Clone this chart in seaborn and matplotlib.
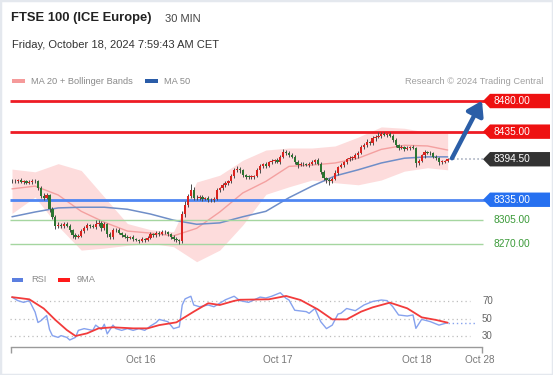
import numpy as np
import pandas as pd
import seaborn as sns
import matplotlib.pyplot as plt
from matplotlib.patches import Polygon, Rectangle

# ---- data (30-min bars, index 0 = first candle on the chart) ----
first_open = 8362
closes = [
    8363, 8362, 8364, 8361, 8362, 8360, 8361, 8363, 8362, 8352, 8341, 8338,
    8342, 8322, 8310, 8296, 8298, 8296, 8300, 8297, 8290, 8283, 8281, 8282,
    8289, 8293, 8298, 8296, 8295, 8299, 8301, 8293, 8299, 8285, 8280, 8290,
    8291, 8286, 8283, 8281, 8279, 8280, 8277, 8276, 8275, 8277, 8276, 8279,
    8284, 8283, 8286, 8285, 8288, 8287, 8284, 8280, 8278, 8276, 8275, 8314,
    8327, 8340, 8349, 8338, 8337, 8339, 8336, 8337, 8335, 8334, 8336, 8349,
    8352, 8356, 8360, 8362, 8370, 8378, 8380, 8378, 8371, 8369, 8368, 8369,
    8370, 8378, 8384, 8387, 8385, 8390, 8392, 8393, 8391, 8398, 8405, 8404,
    8401, 8398, 8390, 8386, 8388, 8387, 8386, 8388, 8391, 8393, 8388, 8376,
    8367, 8364, 8362, 8366, 8375, 8383, 8386, 8390, 8395, 8396, 8397, 8400,
    8404, 8412, 8415, 8420, 8418, 8425, 8427, 8429, 8431, 8430, 8431, 8429,
    8423, 8415, 8411, 8412, 8410, 8411, 8412, 8411, 8389, 8392, 8400, 8405,
    8404, 8403, 8398, 8396, 8390, 8391, 8392, 8394.5,
]
wick_hi = [
    3, 2, 2, 3, 2, 2, 3, 2, 3, 2, 3, 4,
    3, 2, 3, 2, 5, 3, 2, 3, 2, 2, 3, 2,
    3, 4, 3, 2, 3, 6, 4, 3, 3, 2, 3, 3,
    2, 3, 2, 3, 2, 2, 3, 2, 2, 3, 2, 3,
    3, 2, 3, 3, 2, 3, 2, 2, 3, 2, 2, 4,
    6, 4, 9, 5, 4, 3, 3, 2, 3, 2, 3, 3,
    2, 3, 3, 2, 3, 4, 5, 3, 2, 2, 3, 2,
    2, 3, 3, 2, 3, 2, 3, 2, 3, 3, 5, 3,
    2, 3, 2, 3, 2, 3, 2, 3, 3, 2, 3, 2,
    3, 2, 3, 2, 3, 2, 3, 2, 2, 3, 2, 3,
    2, 3, 3, 4, 2, 4, 3, 5, 3, 3, 2, 3,
    2, 3, 2, 3, 2, 3, 2, 3, 2, 3, 2, 3,
    2, 3, 2, 3, 2, 3, 2, 2,
]
wick_lo = [
    2, 3, 2, 2, 3, 2, 2, 3, 2, 3, 3, 4,
    2, 5, 3, 4, 2, 3, 3, 2, 3, 4, 3, 2,
    2, 3, 2, 3, 2, 3, 2, 4, 2, 5, 3, 2,
    3, 2, 3, 2, 4, 2, 3, 2, 3, 2, 3, 2,
    2, 3, 2, 3, 2, 3, 2, 3, 4, 3, 5, 3,
    4, 3, 2, 3, 3, 2, 3, 2, 4, 3, 2, 2,
    3, 2, 2, 3, 2, 3, 2, 3, 3, 4, 2, 3,
    3, 2, 3, 2, 3, 2, 2, 3, 2, 3, 2, 3,
    3, 2, 3, 4, 2, 3, 2, 3, 2, 3, 2, 3,
    3, 5, 6, 3, 2, 3, 2, 3, 2, 3, 2, 2,
    3, 2, 2, 3, 2, 2, 3, 2, 3, 2, 3, 2,
    3, 2, 3, 2, 3, 2, 3, 2, 6, 3, 2, 3,
    2, 3, 2, 3, 4, 3, 2, 2,
]

# indicators, read at every 8th bar
ind_bar = [0, 8, 16, 24, 32, 40, 48, 56, 64, 72, 80, 88, 96, 104, 112, 120, 128, 136, 144, 151]
ma20 = [8351, 8355, 8342, 8318, 8302, 8289, 8286, 8282, 8293, 8317,
        8345, 8362, 8384, 8386, 8389, 8396, 8409, 8415, 8414, 8408]
bb_upper = [8380, 8376, 8388, 8378, 8339, 8300, 8291, 8288, 8361, 8371,
            8393, 8408, 8411, 8411, 8414, 8427, 8442, 8440, 8434, 8433]
bb_lower = [8315, 8339, 8296, 8261, 8264, 8268, 8271, 8266, 8244, 8261,
            8298, 8343, 8354, 8364, 8360, 8357, 8364, 8377, 8382, 8379]
ma50 = [8310, 8317, 8323, 8324, 8324, 8321, 8314, 8305, 8299, 8301,
        8310, 8318, 8338, 8355, 8370, 8379, 8389, 8396, 8398, 8398]

rsi_bar = [0, 2, 4, 6, 8, 9, 10, 12, 13, 14, 16, 17, 19, 20, 22, 23, 25, 28, 29, 31,
           32, 33, 35, 36, 38, 40, 42, 44, 46, 48, 50, 51, 54, 56, 58, 59, 60, 62, 63, 65,
           68, 70, 72, 74, 77, 79, 82, 86, 88, 90, 93, 95, 96, 98, 102, 103, 105, 107, 109, 111,
           113, 114, 116, 119, 122, 125, 128, 130, 132, 134, 137, 139, 140, 142, 145, 148, 151]
rsi_val = [75, 71, 69, 71, 58, 46, 48, 54, 38, 31, 29, 31, 29, 26, 29, 37, 39, 37, 43, 38,
           44, 33, 43, 39, 37, 39, 37, 39, 37, 42, 46, 49.5, 47, 39, 41, 66, 73, 76, 66, 64,
           66, 64, 68, 72, 76, 71, 69, 75, 74, 76, 80, 73.6, 71.7, 60, 58.4, 56.5, 62, 47, 39, 43,
           55.7, 56.5, 62, 59.5, 66, 70, 71.7, 71, 64, 54.6, 53.4, 54.6, 39.3, 49.6, 47, 43, 45.8]
rsi_ma_bar = [0, 6, 11, 15, 19, 22, 26, 30, 35, 42, 47, 51, 57, 63, 68, 72, 77, 79, 89, 95,
              100, 106, 111, 116, 121, 125, 131, 137, 142, 147, 151]
rsi_ma_val = [75, 72.5, 62, 49, 37.4, 30.6, 33.6, 39.3, 40.5, 39.3, 39.3, 43, 46.2, 58.4, 68,
              66, 70.7, 72, 72.5, 76.3, 71.7, 61, 49.6, 49.6, 58.4, 63.3, 68.7, 62.2, 51.9, 48.9, 45.8]

date_labels = ['Oct 16', 'Oct 17', 'Oct 18', 'Oct 28']
date_bars = [44.6, 92.2, 140.2, 162.2]

resistances = [8480, 8435]
last_price = 8394.5
pivot = 8335
supports = [8305, 8270]
target = 8480

# ---- layout helpers (pixel based) ----
W, H = 553, 375
BAR_PX = 2.885
X0 = 12


def bx(px):
    return (px - X0) / BAR_PX


def fx(px):
    return px / W


def fy(py):
    return 1 - py / H


sns.set_theme(style="white")
plt.rcParams['font.family'] = ['Liberation Sans', 'DejaVu Sans']

fig = plt.figure(figsize=(W / 100, H / 100), dpi=100)
fig.patch.set_facecolor('white')

# ---- price panel ----
ax = fig.add_axes([fx(10), fy(270), fx(543), 180 / H])
ax.set_xlim(bx(10), bx(553))
ax.set_ylim(8231.8, 8496.2)
ax.axis('off')

ax.fill_between(ind_bar, bb_lower, bb_upper, color='#fddcdc', lw=0, zorder=1)
sns.lineplot(x=ind_bar, y=ma20, ax=ax, color='#f4a0a0', linewidth=1, zorder=2)
sns.lineplot(x=ind_bar, y=ma50, ax=ax, color='#6f8ec8', linewidth=1.1, zorder=2)

x_end = bx(487)
for lv in resistances:
    ax.hlines(lv, bx(10), x_end, color='#ee1c25', lw=2, zorder=3)
ax.hlines(pivot, bx(10), x_end, color='#4f86f2', lw=2, zorder=3)
for lv in supports:
    ax.hlines(lv, bx(10), bx(483), color='#a5d6a0', lw=1, zorder=3)

# candles
c = np.array(closes, dtype=float)
o = np.r_[first_open, c[:-1]]
bars = np.arange(len(c))
top = np.maximum(o, c)
bot = np.minimum(o, c)
highs = top + np.array(wick_hi)
lows = bot - np.array(wick_lo)
cols = np.where(c >= o, '#d8231f', '#2c7431')
ax.vlines(bars, lows, highs, color='#4a4a4a', lw=0.7, zorder=4)
ax.bar(bars, np.maximum(top - bot, 1.2), bottom=bot, width=0.8, color=cols, linewidth=0, zorder=5)

# dotted link to last price
ax.hlines(last_price, bars[-1] + 0.6, bx(483), color='#9aa3b5', lw=1.1, ls=':', zorder=3)

# target arrow
ax.annotate('', xy=(bx(482), target + 0.5), xytext=(bx(452), last_price + 1.5),
            arrowprops=dict(arrowstyle='-|>,head_length=0.7,head_width=0.45', color='#2b5ea7',
                            lw=3.2, shrinkA=0, shrinkB=0, mutation_scale=12), zorder=6)

# price tags
half = 7.2 / 0.681


def tag(level, face, text_color='white'):
    pts = [(bx(483), level), (bx(490), level + half), (bx(550), level + half),
           (bx(550), level - half), (bx(490), level - half)]
    ax.add_patch(Polygon(pts, closed=True, facecolor=face, edgecolor='none', zorder=7,
                         clip_on=False))
    ax.text(bx(493), level, f'{level:.2f}', color=text_color, fontsize=7.3,
            va='center', ha='left', zorder=8)


for lv in resistances:
    tag(lv, '#ee1111')
tag(last_price, '#333333')
tag(pivot, '#2670f0')
for lv in supports:
    ax.text(bx(493), lv, f'{lv:.2f}', color='#3a9a38', fontsize=7.3, va='center', ha='left')

# ---- RSI panel ----
ax2 = fig.add_axes([fx(10), fy(347), fx(543), 57 / H])
ax2.set_xlim(bx(10), bx(553))
ax2.set_ylim(18, 83.14)
for lv in [30, 50, 70]:
    ax2.hlines(lv, bx(10), bx(470), color='#bdbdbd', lw=0.9, ls=(0, (1, 2.5)))
    ax2.text(bx(482), lv, str(lv), color='#666666', fontsize=7, va='center', ha='left')

sns.lineplot(x=rsi_bar, y=rsi_val, ax=ax2, color='#86a2ee', linewidth=1)
sns.lineplot(x=rsi_ma_bar, y=rsi_ma_val, ax=ax2, color='#f23b3b', linewidth=1.3)
ax2.hlines(rsi_val[-1], rsi_bar[-1], bx(475), color='#86a2ee', lw=1, ls=(0, (1, 2)))

for s in ['top', 'right', 'left']:
    ax2.spines[s].set_visible(False)
ax2.spines['bottom'].set_color('#9a9a9a')
ax2.spines['bottom'].set_linewidth(1)
ax2.spines['bottom'].set_bounds(bx(10.5), bx(482))
ax2.set_yticks([])
ax2.set_xticks(date_bars)
ax2.set_xticklabels(date_labels)
ax2.set_xticks([bx(10.5), bx(482)], minor=True)
ax2.tick_params(axis='x', which='major', length=0, pad=6, labelsize=7.2, labelcolor='#777777')
ax2.tick_params(axis='x', which='minor', length=4, width=1, color='#9a9a9a', direction='out')
ax2.tick_params(axis='x', which='minor', bottom=True)
ax2.set_xlabel('')
ax2.set_ylabel('')
ax2.patch.set_alpha(0)

# ---- header texts and legends ----
fig.text(fx(11), fy(18.5), 'FTSE 100 (ICE Europe)', fontsize=9.4, fontweight='bold',
         color='#222222', va='center', ha='left')
fig.text(fx(165), fy(18.5), '30 MIN', fontsize=8, color='#444444', va='center', ha='left')
fig.text(fx(12), fy(45.5), 'Friday, October 18, 2024 7:59:43 AM CET', fontsize=8,
         color='#333333', va='center', ha='left')


def legend_key(x0, x1, y, color, label, tx):
    fig.patches.append(Rectangle((fx(x0), fy(y + 2)), fx(x1 - x0), 4 / H, transform=fig.transFigure,
                                 facecolor=color, edgecolor='none'))
    fig.text(fx(tx), fy(y), label, fontsize=6.7, color='#8a8a8a', va='center', ha='left')


legend_key(12, 25, 81, '#f59a9a', 'MA 20 + Bollinger Bands', 31)
legend_key(145, 158, 81, '#2a5ca8', 'MA 50', 164)
fig.text(fx(543), fy(81), 'Research \u00a9 2024 Trading Central', fontsize=6.7,
         color='#a0a0a0', va='center', ha='right')
legend_key(12, 23, 280, '#5b7fe0', 'RSI', 31)
legend_key(58, 70, 280, '#ff1a1a', '9MA', 77)

fig.patches.append(Rectangle((0, 0), 1, 1, transform=fig.transFigure, fill=False,
                             edgecolor='#e4e8ee', lw=2.5))

fig.savefig('out.png', dpi=100)
